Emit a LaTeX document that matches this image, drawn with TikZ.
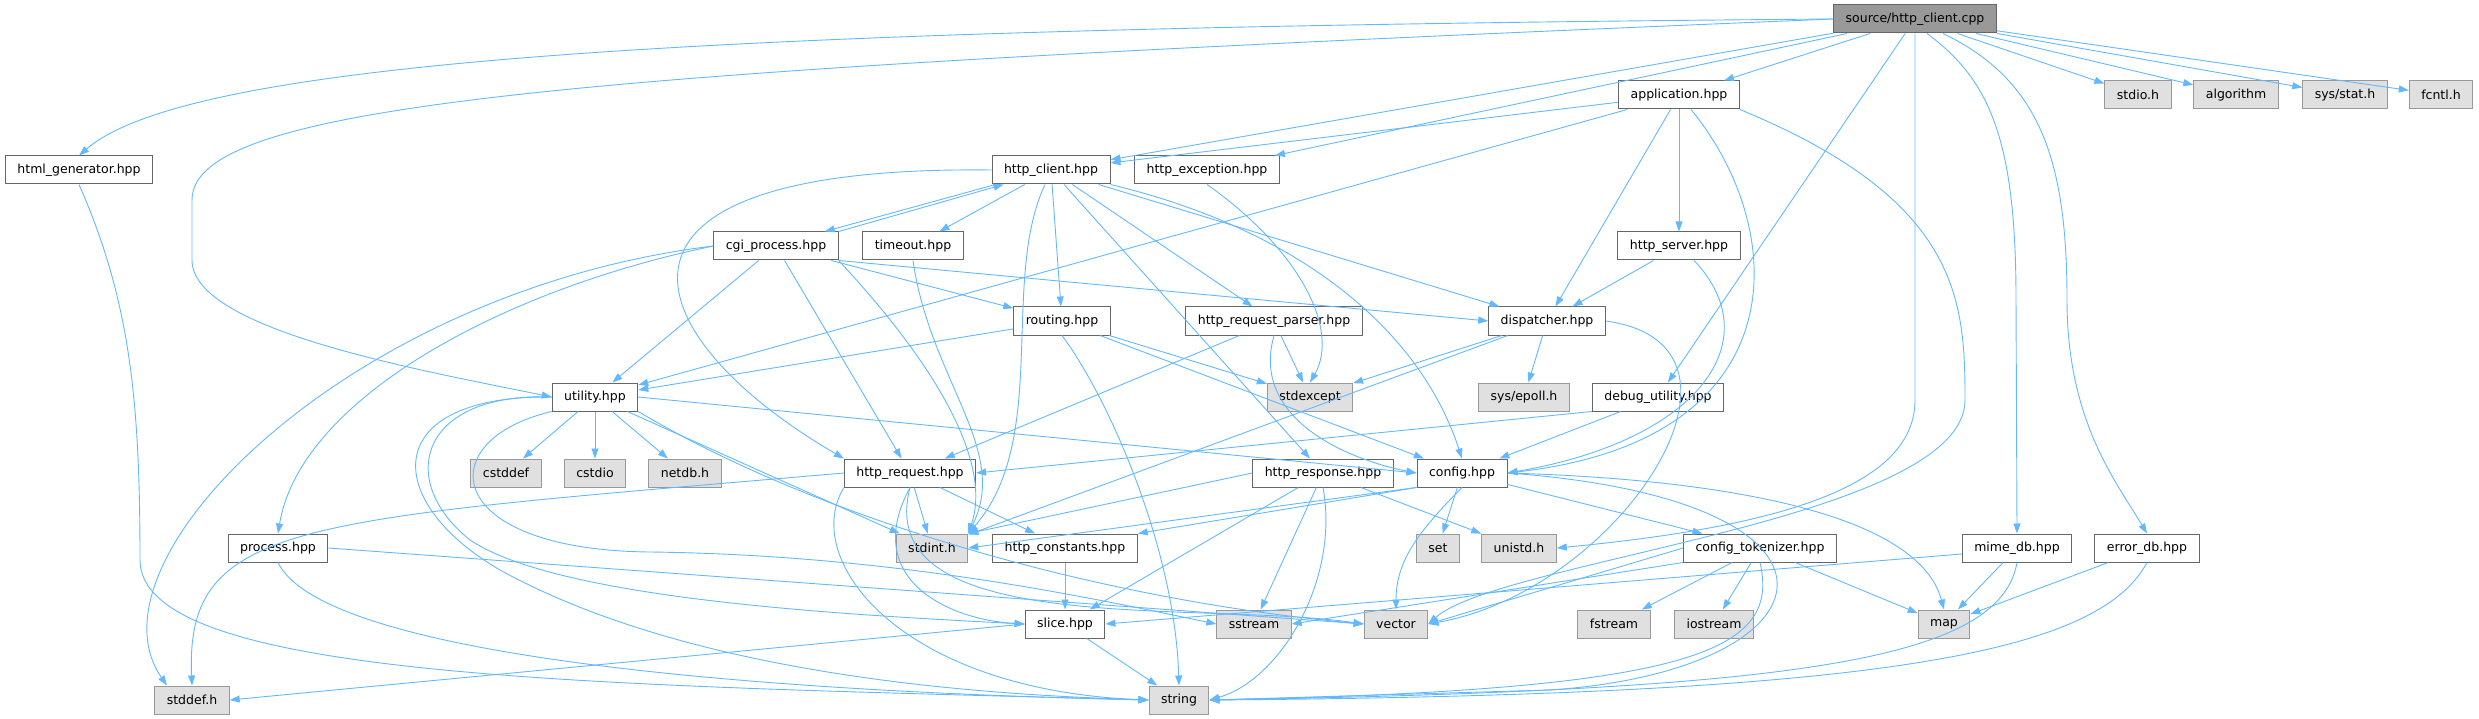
\documentclass[tikz,border=0pt]{standalone}
\usepackage{fontspec}
\setmainfont{DejaVu Sans}
\usetikzlibrary{arrows.meta}
\definecolor{edgeblue}{HTML}{63B8FF}
\definecolor{filerule}{HTML}{666666}
\definecolor{sysfill}{HTML}{E0E0E0}
\definecolor{sysrule}{HTML}{999999}
\definecolor{rootfill}{HTML}{999999}

\begin{document}
\begin{tikzpicture}[
  x=1pt, y=-1pt,
  font=\fontsize{12.5}{15}\selectfont,
  file/.style={
    rectangle, draw=filerule, line width=1pt,
    fill=white,
    minimum height=28pt,
    inner xsep=12pt, inner ysep=0pt
  },
  sys/.style={file, draw=sysrule, fill=sysfill},
  rootfile/.style={file, fill=rootfill},
  edge/.style={draw=edgeblue, line width=0.9pt, -{Triangle[length=10pt, width=7pt]}}
]
\useasboundingbox (0,0) rectangle (2479,719);

% =============================================================================
% Nodes, rows at y = 19 / 95 / 170 / 246 / 321 / 397 / 473 / 548 / 624 / 700
% =============================================================================

% --- Row 0
\node[rootfile] (root) at (1915, 19) {source/http\_client.cpp};

% --- Row 1
\node[file] (app) at (1679, 95) {application.hpp};
\node[sys] (stdio) at (2138, 95) {stdio.h};
\node[sys] (algo) at (2236, 95) {algorithm};
\node[sys] (sysstat) at (2345, 95) {sys/stat.h};
\node[sys] (fcntl) at (2441, 95) {fcntl.h};

% --- Row 2
\node[file] (htmlgen) at (79, 170) {html\_generator.hpp};
\node[file] (client) at (1051, 170) {http\_client.hpp};
\node[file] (exception) at (1207, 170) {http\_exception.hpp};

% --- Row 3
\node[file] (cgi) at (776, 246) {cgi\_process.hpp};
\node[file] (timeout) at (913, 246) {timeout.hpp};
\node[file] (server) at (1679, 246) {http\_server.hpp};

% --- Row 4
\node[file] (routing) at (1062, 321) {routing.hpp};
\node[file] (parser) at (1274, 321) {http\_request\_parser.hpp};
\node[file] (dispatcher) at (1547, 321) {dispatcher.hpp};

% --- Row 5
\node[file] (utility) at (595, 397) {utility.hpp};
\node[sys] (stdexcept) at (1310, 397) {stdexcept};
\node[sys] (epoll) at (1524, 397) {sys/epoll.h};
\node[file] (debugutil) at (1658, 397) {debug\_utility.hpp};

% --- Row 6
\node[sys] (cstddef) at (506, 473) {cstddef};
\node[sys] (cstdio) at (595, 473) {cstdio};
\node[sys] (netdb) at (685, 473) {netdb.h};
\node[file] (request) at (910, 473) {http\_request.hpp};
\node[file] (response) at (1323, 473) {http\_response.hpp};
\node[file] (config) at (1462, 473) {config.hpp};

% --- Row 7
\node[file] (process) at (278, 548) {process.hpp};
\node[sys] (stdint) at (932, 548) {stdint.h};
\node[file] (constants) at (1065, 548) {http\_constants.hpp};
\node[sys] (set) at (1438, 548) {set};
\node[sys] (unistd) at (1519, 548) {unistd.h};
\node[file] (tokenizer) at (1760, 548) {config\_tokenizer.hpp};
\node[file] (mimedb) at (2017, 548) {mime\_db.hpp};
\node[file] (errordb) at (2147, 548) {error\_db.hpp};

% --- Row 8
\node[file] (slice) at (1065, 624) {slice.hpp};
\node[sys] (sstream) at (1254, 624) {sstream};
\node[sys] (vector) at (1396, 624) {vector};
\node[sys] (fstream) at (1614, 624) {fstream};
\node[sys] (iostream) at (1714, 624) {iostream};
\node[sys] (map) at (1944, 624) {map};

% --- Row 9
\node[sys] (stddef) at (192, 700) {stddef.h};
\node[sys] (string) at (1179, 700) {string};

% =============================================================================
% Includes
% =============================================================================

% --- source/http_client.cpp
\draw[edge] (root.west) .. controls (700,28) and (190,60) .. (htmlgen.north);
\draw[edge] (root.west) .. controls (600,70) and (192,100) .. (192,200)
  -- (192,260) .. controls (192,330) and (420,370) .. (utility.west);
\draw[edge] (root) -- (client);
\draw[edge] (root) -- (exception);
\draw[edge] (root) -- (app);
\draw[edge] (root) -- (debugutil);
\draw[edge] (root.south) -- (1915,400) .. controls (1915,480) and (1800,525) .. (unistd.east);
\draw[edge] ([xshift=12pt]root.south) .. controls (1990,80) and (2016,140) .. (2016,300) -- (mimedb.north);
\draw[edge] ([xshift=28pt]root.south) .. controls (2040,80) and (2067,160) .. (2067,300)
  .. controls (2067,420) and (2115,480) .. (errordb.north);
\draw[edge] (root) -- (stdio);
\draw[edge] (root) -- (algo);
\draw[edge] (root) -- (sysstat);
\draw[edge] (root) -- (fcntl);

% --- application.hpp
\draw[edge] (app) -- (client);
\draw[edge] (app) -- (utility);
\draw[edge] (app) -- (dispatcher);
\draw[edge] (app) -- (server);
\draw[edge] ([xshift=12pt]app.south) .. controls (1790,230) and (1800,440) .. (config.east);
\draw[edge] (app.south east) .. controls (1960,200) and (1965,300) .. (1965,400)
  .. controls (1965,520) and (1500,560) .. (vector.east);

% --- http_server.hpp
\draw[edge] (server) -- (dispatcher);
\draw[edge] ([xshift=15pt]server.south) .. controls (1770,340) and (1700,440) .. (config.east);

% --- html_generator.hpp
\draw[edge] (htmlgen.south) .. controls (130,300) and (140,400) .. (140,560)
  .. controls (140,680) and (600,685) .. (string.west);

% --- http_client.hpp
\draw[edge] ([xshift=4pt]client.south west) -- ([xshift=-14pt]cgi.north east);
\draw[edge] (client.west) .. controls (560,165) and (640,340) .. (request.north west);
\draw[edge] (client) -- (timeout);
\draw[edge] ([xshift=-6pt]client.south) .. controls (1000,280) and (1050,440) .. (stdint.north east);
\draw[edge] (client) -- (routing);
\draw[edge] (client) -- (response);
\draw[edge] (client) -- (parser);
\draw[edge] (client) -- (dispatcher);
\draw[edge] (client.south east) .. controls (1300,230) and (1420,330) .. (config.north);

% --- http_exception.hpp
\draw[edge] (exception.south) .. controls (1300,250) and (1340,330) .. (stdexcept.north);

% --- cgi_process.hpp
\draw[edge] (cgi.north east) -- ([xshift=12pt]client.south west);
\draw[edge] (cgi) -- (utility);
\draw[edge] (cgi.west) .. controls (500,290) and (300,400) .. (process.north);
\draw[edge] (cgi.west) .. controls (350,290) and (80,560) .. ([xshift=-25pt]stddef.north);
\draw[edge] (cgi) -- (request);
\draw[edge] (cgi.south east) .. controls (950,380) and (990,470) .. (stdint.north east);
\draw[edge] (cgi) -- (routing);
\draw[edge] (cgi.south east) -- (dispatcher.west);

% --- timeout.hpp
\draw[edge] (timeout.south) .. controls (930,380) and (1010,450) .. (stdint.north east);

% --- routing.hpp
\draw[edge] (routing) -- (utility);
\draw[edge] (routing.south) .. controls (1110,400) and (1175,550) .. (string.north);
\draw[edge] (routing) -- (stdexcept);
\draw[edge] (routing) -- (config);

% --- http_request_parser.hpp
\draw[edge] (parser) -- (request);
\draw[edge] (parser) -- (stdexcept);
\draw[edge] (parser.south) .. controls (1250,420) and (1350,460) .. (config.west);

% --- dispatcher.hpp
\draw[edge] (dispatcher) -- (stdexcept);
\draw[edge] (dispatcher) -- (epoll);
\draw[edge] (dispatcher) -- (stdint);
\draw[edge] (dispatcher.east) .. controls (1780,345) and (1620,590) .. (vector.east);

% --- debug_utility.hpp
\draw[edge] (debugutil) -- (config);
\draw[edge] (debugutil.south west) -- (request.east);

% --- utility.hpp
\draw[edge] (utility) -- (cstddef);
\draw[edge] (utility) -- (cstdio);
\draw[edge] (utility) -- (netdb);
\draw[edge] (utility.east) -- (config.west);
\draw[edge] (utility) -- (stdint);
\draw[edge] (utility.west) .. controls (420,392) and (395,480) .. (470,540)
  .. controls (560,600) and (850,615) .. (slice.west);
\draw[edge] (utility.south west) .. controls (430,440) and (440,550) .. (650,552)
  .. controls (900,555) and (1100,600) .. (sstream.west);
\draw[edge] (utility.south east) .. controls (820,520) and (1100,600) .. (vector.west);
\draw[edge] (utility.west) .. controls (380,395) and (380,500) .. (500,570)
  .. controls (700,680) and (1000,695) .. (string.west);

% --- http_request.hpp
\draw[edge] (request.west) .. controls (300,520) and (185,520) .. (stddef.north);
\draw[edge] (request) -- (stdint);
\draw[edge] (request) -- (constants);
\draw[edge] (request.south) .. controls (860,580) and (950,620) .. (slice.west);
\draw[edge] (request.south) .. controls (870,640) and (1200,600) .. (vector.west);
\draw[edge] (request.south west) .. controls (800,560) and (900,690) .. (string.west);

% --- http_response.hpp
\draw[edge] (response.west) -- (stdint.north east);
\draw[edge] (response) -- (slice);
\draw[edge] (response) -- (sstream);
\draw[edge] (response.south) .. controls (1340,580) and (1280,680) .. (string.east);
\draw[edge] (response) -- (unistd);

% --- config.hpp
\draw[edge] (config.south west) -- (stdint.east);
\draw[edge] (config.south west) -- (constants.north east);
\draw[edge] (config) -- (set);
\draw[edge] (config.south) .. controls (1420,530) and (1396,560) .. (vector.north);
\draw[edge] (config) -- (tokenizer);
\draw[edge] (config.east) .. controls (1750,480) and (1920,520) .. (map.north);
\draw[edge] (config.east) .. controls (1880,500) and (1840,670) .. (1550,690) -- (string.east);

% --- http_constants.hpp, slice.hpp, process.hpp
\draw[edge] (constants) -- (slice);
\draw[edge] (slice) -- (string);
\draw[edge] (slice.west) -- (stddef.east);
\draw[edge] (process.south) .. controls (320,650) and (700,690) .. (string.west);
\draw[edge] (process.east) -- (vector.west);

% --- config_tokenizer.hpp
\draw[edge] (tokenizer.west) -- (vector.east);
\draw[edge] (tokenizer.south west) -- (sstream.east);
\draw[edge] (tokenizer) -- (fstream);
\draw[edge] (tokenizer) -- (iostream);
\draw[edge] (tokenizer) -- (map);
\draw[edge] (tokenizer.south) .. controls (1780,650) and (1700,690) .. (string.east);

% --- mime_db.hpp, error_db.hpp
\draw[edge] (mimedb) -- (map);
\draw[edge] ([yshift=-6pt]mimedb.west) -- (slice.east);
\draw[edge] (mimedb.south) .. controls (2000,660) and (1800,690) .. (string.east);
\draw[edge] (errordb) -- (map);
\draw[edge] (errordb.south) .. controls (2100,650) and (1900,695) .. (string.east);

\end{tikzpicture}
\end{document}
